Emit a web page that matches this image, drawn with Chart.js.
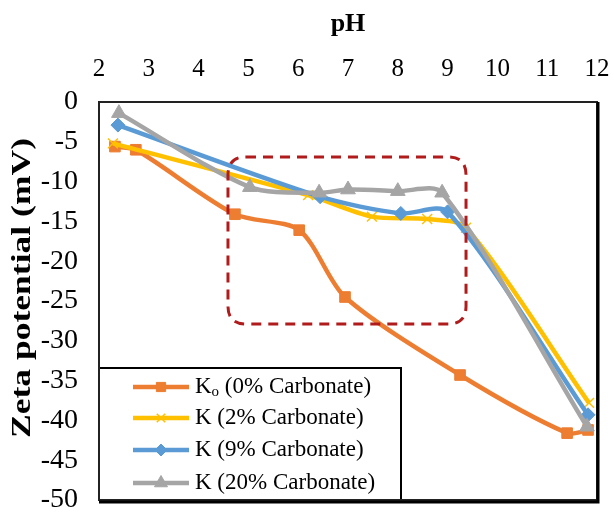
<!DOCTYPE html>
<html>
<head>
<meta charset="utf-8">
<script src="https://cdn.jsdelivr.net/npm/chart.js@4/dist/chart.umd.min.js"></script>
<style>
  html, body { margin: 0; padding: 0; background: #fff; }
  #wrap { width: 614px; height: 512px; }
</style>
</head>
<body>
<div id="wrap"><canvas id="grafica"></canvas></div>
<script>
// --- Datos ---
const phTicks = [2, 3, 4, 5, 6, 7, 8, 9, 10, 11, 12];
const zetaTicks = [0, -5, -10, -15, -20, -25, -30, -35, -40, -45, -50];

const seriesNames = ['Kₒ (0% Carbonate)', 'K (2% Carbonate)', 'K (9% Carbonate)', 'K (20% Carbonate)'];
const yTitle = 'Zeta potential (mV)';

const ph0 = [2.32, 2.74, 4.73, 6.02, 6.94, 9.25, 11.4, 11.82];
const zeta0 = [-5.6, -6.0, -14.1, -16.1, -24.5, -34.3, -41.6, -41.2];

const ph2 = [2.28, 6.2, 7.48, 8.59, 9.37, 11.84];
const zeta2 = [-5.2, -11.7, -14.4, -14.7, -15.8, -37.8];

const ph9 = [2.38, 6.44, 8.06, 9.0, 11.82];
const zeta9 = [-2.9, -11.9, -14.0, -13.8, -39.3];

const ph20 = [2.4, 5.03, 6.42, 7.0, 8.0, 8.89, 11.8];
const zeta20 = [-1.4, -10.7, -11.4, -11.0, -11.2, -11.4, -40.8];

// zona marcada (rectangulo punteado), en unidades de pH / mV
const zona = { x1: 4.59, x2: 9.37, y1: -6.9, y2: -27.9 };

const colores = ['#ED7D31', '#FFC000', '#5B9BD5', '#A5A5A5'];
const marcadores = ['rect', 'crossRot', 'rectRot', 'triangle'];
const radios = [7.5, 7, 7, 8.5];

const serif = "'Liberation Serif', 'Times New Roman', serif";

const juntar = (xs, ys) => xs.map((x, i) => ({ x: x, y: ys[i] }));
const puntos = [juntar(ph0, zeta0), juntar(ph2, zeta2), juntar(ph9, zeta9), juntar(ph20, zeta20)];

const datasets = puntos.map((p, i) => ({
  label: seriesNames[i],
  data: p,
  borderColor: colores[i],
  backgroundColor: colores[i],
  pointBackgroundColor: colores[i],
  pointBorderColor: colores[i],
  pointBorderWidth: i === 1 ? 1.5 : 1,
  pointStyle: marcadores[i],
  pointRadius: radios[i],
  borderWidth: 4.5,
  tension: 0.28,
  order: 4 - i,
  clip: false
}));

// --- Plugin: marco, zona punteada, leyenda y titulo del eje y ---
function rectRedondeado(ctx, x, y, w, h, r) {
  ctx.beginPath();
  ctx.moveTo(x + r, y);
  ctx.lineTo(x + w - r, y);
  ctx.quadraticCurveTo(x + w, y, x + w, y + r);
  ctx.lineTo(x + w, y + h - r);
  ctx.quadraticCurveTo(x + w, y + h, x + w - r, y + h);
  ctx.lineTo(x + r, y + h);
  ctx.quadraticCurveTo(x, y + h, x, y + h - r);
  ctx.lineTo(x, y + r);
  ctx.quadraticCurveTo(x, y, x + r, y);
  ctx.closePath();
}

const extras = {
  id: 'extras',
  afterDraw(chart) {
    const ctx = chart.ctx;
    // titulo del eje y (un poco estirado a lo largo, como en la figura)
    ctx.save();
    ctx.translate(23, 288);
    ctx.rotate(-Math.PI / 2);
    ctx.font = 'bold 28px ' + serif;
    const w = ctx.measureText(yTitle).width;
    ctx.scale(300 / w, 1);
    ctx.fillStyle = '#000';
    ctx.textAlign = 'center';
    ctx.textBaseline = 'middle';
    ctx.fillText(yTitle, 0, 0);
    ctx.restore();
  },
  afterDatasetsDraw(chart) {
    const ctx = chart.ctx;
    const xs = chart.scales.x, ys = chart.scales.y;
    const a = chart.chartArea;

    // zona punteada
    const zx1 = xs.getPixelForValue(zona.x1), zx2 = xs.getPixelForValue(zona.x2);
    const zy1 = ys.getPixelForValue(zona.y1), zy2 = ys.getPixelForValue(zona.y2);
    ctx.save();
    ctx.strokeStyle = '#B01C1C';
    ctx.lineWidth = 3;
    ctx.setLineDash([10, 7]);
    rectRedondeado(ctx, zx1, zy1, zx2 - zx1, zy2 - zy1, 18);
    ctx.stroke();
    ctx.restore();

    // leyenda
    const lx = a.left, lw = 302, lh = 132, ly = a.bottom - lh;
    ctx.save();
    ctx.fillStyle = '#fff';
    ctx.fillRect(lx, ly, lw, lh);
    ctx.strokeStyle = '#000';
    ctx.lineWidth = 2;
    ctx.strokeRect(lx, ly, lw, lh);
    const filas = [19, 50, 82, 115];
    chart.data.datasets.forEach((ds, i) => {
      const cy = ly + filas[i];
      ctx.strokeStyle = ds.borderColor;
      ctx.lineWidth = 4.5;
      ctx.beginPath();
      ctx.moveTo(lx + 34, cy);
      ctx.lineTo(lx + 90, cy);
      ctx.stroke();
      ctx.fillStyle = ds.borderColor;
      ctx.strokeStyle = ds.borderColor;
      ctx.lineWidth = ds.pointBorderWidth;
      Chart.helpers.drawPoint(ctx, { pointStyle: ds.pointStyle, radius: ds.pointRadius - 1, borderWidth: ds.pointBorderWidth }, lx + 62, cy);

      ctx.fillStyle = '#000';
      ctx.textBaseline = 'middle';
      ctx.textAlign = 'left';
      let tx = lx + 96;
      const partes = ds.label.split('ₒ');
      ctx.font = '23px ' + serif;
      ctx.fillText(partes[0], tx, cy);
      tx += ctx.measureText(partes[0]).width;
      if (partes.length > 1) {
        ctx.font = '15px ' + serif;
        ctx.fillText('o', tx, cy + 5);
        tx += ctx.measureText('o').width;
        ctx.font = '23px ' + serif;
        ctx.fillText(partes[1], tx, cy);
      }
    });
    ctx.restore();

    // marco del grafico
    ctx.save();
    ctx.strokeStyle = '#222';
    ctx.lineWidth = 2;
    ctx.strokeRect(a.left, a.top, a.right - a.left, a.bottom - a.top);
    ctx.strokeStyle = '#000';
    ctx.lineWidth = 3;
    ctx.beginPath();
    ctx.moveTo(a.right + 1, a.top);
    ctx.lineTo(a.right + 1, a.bottom + 2);
    ctx.lineTo(a.left, a.bottom + 2);
    ctx.stroke();
    ctx.restore();
  }
};

new Chart(document.getElementById('grafica'), {
  type: 'line',
  data: { datasets: datasets },
  options: {
    responsive: true,
    maintainAspectRatio: false,
    animation: false,
    layout: { padding: { left: 0, top: 0, right: 17, bottom: 12 } },
    plugins: { legend: { display: false }, tooltip: { enabled: false } },
    scales: {
      x: {
        type: 'linear',
        position: 'top',
        min: phTicks[0],
        max: phTicks[phTicks.length - 1],
        afterBuildTicks: s => { s.ticks = phTicks.map(v => ({ value: v })); },
        afterFit: s => { s.height = 102; s.paddingLeft = 0; s.paddingRight = 0; },
        grid: { display: false, drawTicks: false },
        border: { display: false },
        ticks: { color: '#000', font: { family: serif, size: 25 }, padding: 18 },
        title: { display: true, text: 'pH', color: '#000', font: { family: serif, size: 26, weight: 'bold' }, padding: { top: 9, bottom: 0 } }
      },
      y: {
        min: zetaTicks[zetaTicks.length - 1],
        max: zetaTicks[0],
        afterBuildTicks: s => { s.ticks = zetaTicks.map(v => ({ value: v })); },
        afterFit: s => { s.width = 99; s.paddingTop = 0; s.paddingBottom = 0; },
        grid: { display: false, drawTicks: false },
        border: { display: false },
        ticks: { color: '#000', font: { family: serif, size: 28 }, padding: 21 },
        title: { display: false }
      }
    }
  },
  plugins: [extras]
});
</script>
</body>
</html>
